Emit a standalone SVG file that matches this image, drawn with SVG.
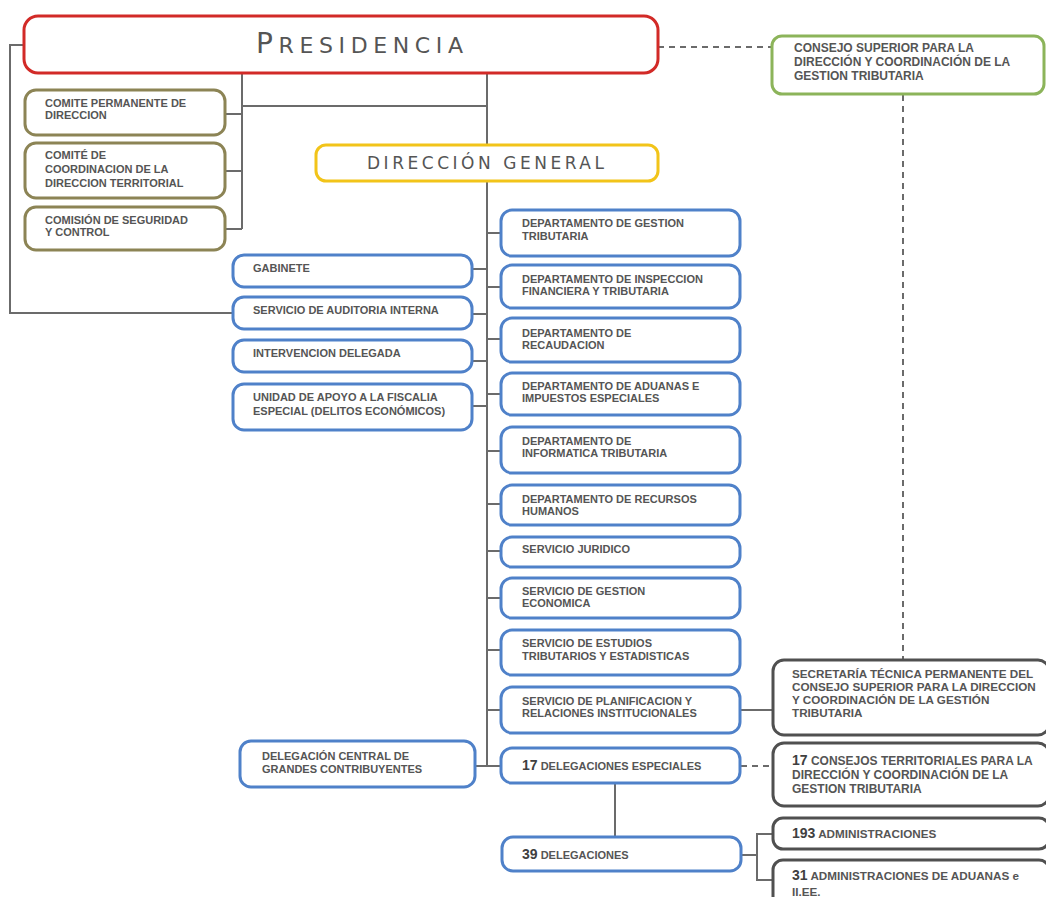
<svg xmlns="http://www.w3.org/2000/svg" width="1046" height="897" viewBox="0 0 1046 897">
<style>
.bg{fill:#ffffff}
.box{fill:#ffffff;stroke-width:3}
.red{stroke:#d22a27}
.yel{stroke:#f2c419}
.olv{stroke:#8c8455}
.blu{stroke:#4f81c9}
.grn{stroke:#8cb45a}
.dk{stroke:#505050}
.t{font-family:"Liberation Sans",Arial,sans-serif;font-size:11px;font-weight:bold;fill:#555555}
.tr{font-family:"Liberation Sans",Arial,sans-serif;font-size:11.7px;font-weight:bold;fill:#555555}
.tw{font-family:"Liberation Sans",Arial,sans-serif;font-size:12px;font-weight:bold;fill:#555555}
.big{font-size:14px;fill:#404040}
.hd{font-family:"DejaVu Sans","Liberation Sans",sans-serif;fill:#555555}
.ln{fill:none;stroke:#6b6b6b;stroke-width:2}
.dash{fill:none;stroke:#6b6b6b;stroke-width:2;stroke-dasharray:6,5}
</style>
<rect class="bg" x="0" y="0" width="1046" height="897"/>
<g id="connectors">
<polyline class="ln" points="24,45 10,45 10,313 233,313"/>
<line class="ln" x1="242" y1="73" x2="242" y2="229"/>
<line class="ln" x1="225" y1="114" x2="242" y2="114"/>
<line class="ln" x1="225" y1="171" x2="242" y2="171"/>
<line class="ln" x1="225" y1="229" x2="242" y2="229"/>
<line class="ln" x1="242" y1="106" x2="487" y2="106"/>
<line class="ln" x1="487" y1="73" x2="487" y2="145"/>
<line class="ln" x1="487" y1="181" x2="487" y2="766"/>
<line class="ln" x1="472" y1="269" x2="487" y2="269"/>
<line class="ln" x1="472" y1="314" x2="487" y2="314"/>
<line class="ln" x1="472" y1="361" x2="487" y2="361"/>
<line class="ln" x1="472" y1="406" x2="487" y2="406"/>
<line class="ln" x1="487" y1="233" x2="501" y2="233"/>
<line class="ln" x1="487" y1="287" x2="501" y2="287"/>
<line class="ln" x1="487" y1="339" x2="501" y2="339"/>
<line class="ln" x1="487" y1="394" x2="501" y2="394"/>
<line class="ln" x1="487" y1="451" x2="501" y2="451"/>
<line class="ln" x1="487" y1="504" x2="501" y2="504"/>
<line class="ln" x1="487" y1="551" x2="501" y2="551"/>
<line class="ln" x1="487" y1="598" x2="501" y2="598"/>
<line class="ln" x1="487" y1="650" x2="501" y2="650"/>
<line class="ln" x1="487" y1="710" x2="501" y2="710"/>
<line class="ln" x1="476" y1="766" x2="501" y2="766"/>
<line class="ln" x1="741" y1="710" x2="773" y2="710"/>
<line class="ln" x1="615" y1="784" x2="615" y2="838"/>
<polyline class="ln" points="741,855 757,855"/>
<polyline class="ln" points="773,834 757,834 757,880 773,880"/>
<line class="dash" x1="658" y1="47" x2="772" y2="47"/>
<line class="dash" x1="903" y1="95" x2="903" y2="660"/>
<line class="dash" x1="741" y1="766" x2="773" y2="766"/>
</g>
<g id="presidencia">
<rect class="box red" x="24" y="16" width="634" height="57" rx="14" stroke-width="3.5"/>
<text class="hd" x="256" y="53" textLength="207" lengthAdjust="spacing"><tspan font-size="28">P</tspan><tspan font-size="22">RESIDENCIA</tspan></text>
</g>
<g id="consejo-superior">
<rect class="box grn" x="772" y="36" width="272" height="58" rx="10"/>
<text class="tw" x="794" y="52">CONSEJO SUPERIOR PARA LA</text>
<text class="tw" x="794" y="66">DIRECCIÓN Y COORDINACIÓN DE LA</text>
<text class="tw" x="794" y="80">GESTION TRIBUTARIA</text>
</g>
<g id="comite-permanente">
<rect class="box olv" x="25" y="90" width="200" height="45" rx="11"/>
<text class="t" x="45" y="107">COMITE PERMANENTE DE</text>
<text class="t" x="45" y="119">DIRECCION</text>
</g>
<g id="comite-coordinacion">
<rect class="box olv" x="25" y="143" width="200" height="55" rx="11"/>
<text class="t" x="45" y="159">COMITÉ DE</text>
<text class="t" x="45" y="173">COORDINACION DE LA</text>
<text class="t" x="45" y="187">DIRECCION TERRITORIAL</text>
</g>
<g id="comision-seguridad">
<rect class="box olv" x="25" y="207" width="200" height="43" rx="11"/>
<text class="t" x="45" y="224">COMISIÓN DE SEGURIDAD</text>
<text class="t" x="45" y="236">Y CONTROL</text>
</g>
<g id="direccion-general">
<rect class="box yel" x="316" y="145" width="342" height="36" rx="10"/>
<text class="hd" x="367" y="169" textLength="237" lengthAdjust="spacing" font-size="17">DIRECCIÓN GENERAL</text>
</g>
<g id="gabinete">
<rect class="box blu" x="233" y="255" width="239" height="32" rx="11"/>
<text class="t" x="253" y="272">GABINETE</text>
</g>
<g id="auditoria">
<rect class="box blu" x="233" y="297" width="239" height="32" rx="11"/>
<text class="t" x="253" y="314">SERVICIO DE AUDITORIA INTERNA</text>
</g>
<g id="intervencion">
<rect class="box blu" x="233" y="340" width="239" height="32" rx="11"/>
<text class="t" x="253" y="357">INTERVENCION DELEGADA</text>
</g>
<g id="unidad-apoyo">
<rect class="box blu" x="233" y="384" width="239" height="46" rx="11"/>
<text class="t" x="253" y="401">UNIDAD DE APOYO A LA FISCALIA</text>
<text class="t" x="253" y="415">ESPECIAL (DELITOS ECONÓMICOS)</text>
</g>
<g id="dep-gestion">
<rect class="box blu" x="501" y="210" width="239" height="46" rx="11"/>
<text class="t" x="522" y="227">DEPARTAMENTO DE GESTION</text>
<text class="t" x="522" y="240">TRIBUTARIA</text>
</g>
<g id="dep-inspeccion">
<rect class="box blu" x="501" y="265" width="239" height="43" rx="11"/>
<text class="t" x="522" y="283">DEPARTAMENTO DE INSPECCION</text>
<text class="t" x="522" y="295">FINANCIERA Y TRIBUTARIA</text>
</g>
<g id="dep-recaudacion">
<rect class="box blu" x="501" y="318" width="239" height="44" rx="11"/>
<text class="t" x="522" y="337">DEPARTAMENTO DE</text>
<text class="t" x="522" y="349">RECAUDACION</text>
</g>
<g id="dep-aduanas">
<rect class="box blu" x="501" y="373" width="239" height="42" rx="11"/>
<text class="t" x="522" y="390">DEPARTAMENTO DE ADUANAS E</text>
<text class="t" x="522" y="402">IMPUESTOS ESPECIALES</text>
</g>
<g id="dep-informatica">
<rect class="box blu" x="501" y="427" width="239" height="46" rx="11"/>
<text class="t" x="522" y="445">DEPARTAMENTO DE</text>
<text class="t" x="522" y="457">INFORMATICA TRIBUTARIA</text>
</g>
<g id="dep-rrhh">
<rect class="box blu" x="501" y="485" width="239" height="40" rx="11"/>
<text class="t" x="522" y="503">DEPARTAMENTO DE RECURSOS</text>
<text class="t" x="522" y="515">HUMANOS</text>
</g>
<g id="serv-juridico">
<rect class="box blu" x="501" y="537" width="239" height="30" rx="11"/>
<text class="t" x="522" y="553">SERVICIO JURIDICO</text>
</g>
<g id="serv-gestion-economica">
<rect class="box blu" x="501" y="578" width="239" height="40" rx="11"/>
<text class="t" x="522" y="595">SERVICIO DE GESTION</text>
<text class="t" x="522" y="607">ECONOMICA</text>
</g>
<g id="serv-estudios">
<rect class="box blu" x="501" y="630" width="239" height="45" rx="11"/>
<text class="t" x="522" y="647">SERVICIO DE ESTUDIOS</text>
<text class="t" x="522" y="660">TRIBUTARIOS Y ESTADISTICAS</text>
</g>
<g id="serv-planificacion">
<rect class="box blu" x="501" y="687" width="239" height="46" rx="11"/>
<text class="t" x="522" y="705">SERVICIO DE PLANIFICACION Y</text>
<text class="t" x="522" y="717">RELACIONES INSTITUCIONALES</text>
</g>
<g id="secretaria-tecnica">
<rect class="box dk" x="773" y="660" width="276" height="75" rx="11"/>
<text class="tr" x="792" y="678">SECRETARÍA TÉCNICA PERMANENTE DEL</text>
<text class="tr" x="792" y="691">CONSEJO SUPERIOR PARA LA DIRECCION</text>
<text class="tr" x="792" y="704">Y COORDINACIÓN DE LA  GESTIÓN</text>
<text class="tr" x="792" y="717">TRIBUTARIA</text>
</g>
<g id="delegacion-central">
<rect class="box blu" x="240" y="741" width="235" height="46" rx="11"/>
<text class="t" x="262" y="760">DELEGACIÓN CENTRAL DE</text>
<text class="t" x="262" y="773">GRANDES CONTRIBUYENTES</text>
</g>
<g id="delegaciones-especiales">
<rect class="box blu" x="501" y="748" width="239" height="35" rx="11"/>
<text class="t" x="522" y="770"><tspan class="big">17</tspan> DELEGACIONES ESPECIALES</text>
</g>
<g id="consejos-territoriales">
<rect class="box dk" x="773" y="743" width="276" height="63" rx="11"/>
<text class="tw" x="792" y="765"><tspan class="big">17</tspan> CONSEJOS TERRITORIALES PARA LA</text>
<text class="tw" x="792" y="779">DIRECCIÓN Y COORDINACIÓN DE LA</text>
<text class="tw" x="792" y="793">GESTION TRIBUTARIA</text>
</g>
<g id="delegaciones">
<rect class="box blu" x="502" y="837" width="239" height="34" rx="11"/>
<text class="t" x="522" y="859"><tspan class="big">39</tspan> DELEGACIONES</text>
</g>
<g id="administraciones">
<rect class="box dk" x="773" y="818" width="276" height="31" rx="10"/>
<text class="tr" x="792" y="838"><tspan class="big">193</tspan> ADMINISTRACIONES</text>
</g>
<g id="administraciones-aduanas">
<rect class="box dk" x="773" y="860" width="276" height="50" rx="10"/>
<text class="tr" x="792" y="880"><tspan class="big">31</tspan> ADMINISTRACIONES DE ADUANAS e</text>
<text class="tr" x="792" y="895.5">II.EE.</text>
</g>
</svg>
